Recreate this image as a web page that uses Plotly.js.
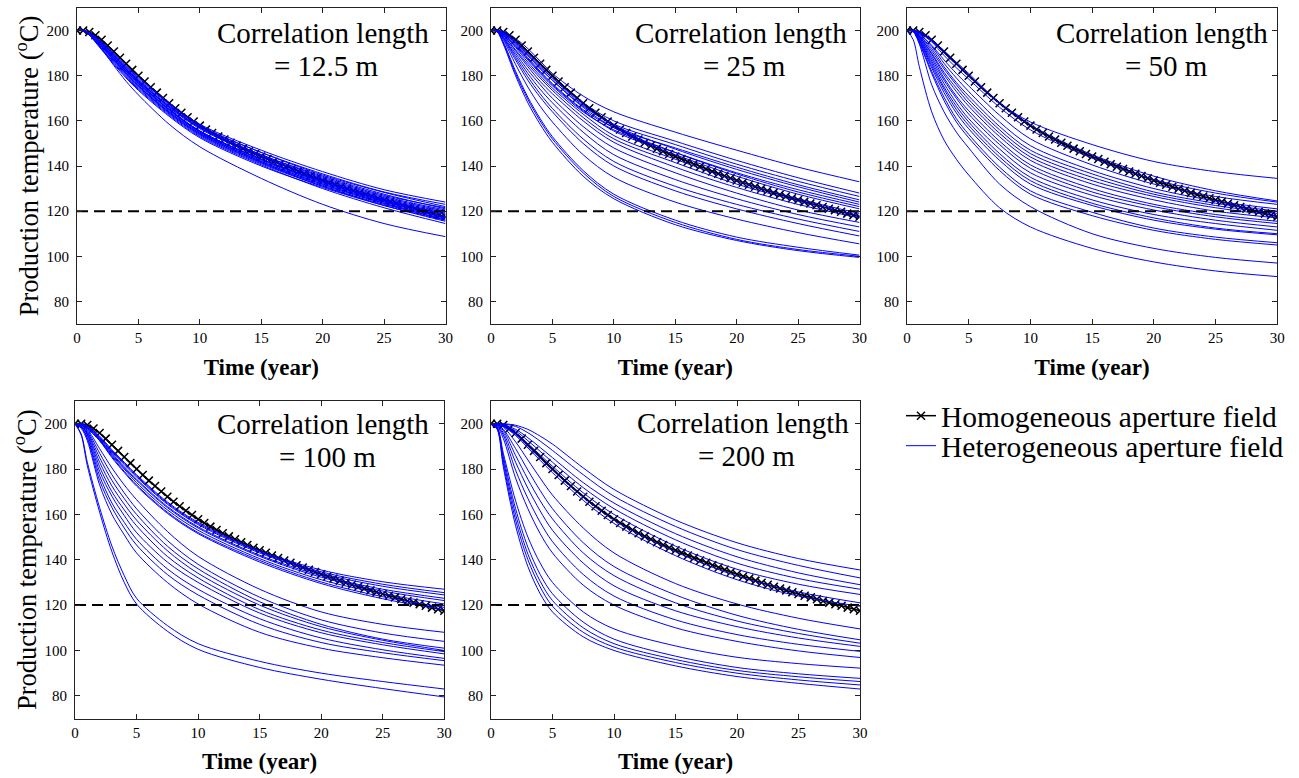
<!DOCTYPE html>
<html>
<head>
<meta charset="utf-8">
<script src="https://cdn.plot.ly/plotly-3.0.1.min.js"></script>
<style>html,body{margin:0;padding:0;background:#fff}#chart{width:1299px;height:778px}</style>
</head>
<body>
<div id="chart"></div>
<script>
// ---------- data ----------
const timeHom = [0,0.5,1,1.5,2,2.5,3,3.5,4,4.5,5,5.5,6,6.5,7,7.5,8,8.5,9,9.5,10,10.5,11,11.5,12,12.5,13,13.5,14,14.5,15,15.5,16,16.5,17,17.5,18,18.5,19,19.5,20,20.5,21,21.5,22,22.5,23,23.5,24,24.5,25,25.5,26,26.5,27,27.5,28,28.5,29,29.5,30];
const tempHom = [200.0,200.0,199.4,197.9,195.9,193.4,190.7,188.0,185.3,182.6,180.0,177.4,174.9,172.5,170.1,167.8,165.6,163.6,161.6,159.7,157.9,156.2,154.6,153.1,151.7,150.3,149.0,147.7,146.5,145.3,144.2,143.1,141.9,140.8,139.7,138.7,137.6,136.6,135.6,134.6,133.6,132.6,131.7,130.8,129.9,129.0,128.1,127.3,126.5,125.7,124.9,124.1,123.4,122.6,121.8,121.1,120.4,119.7,118.9,118.2,117.5];

const timeHet = [0,0.5,1,2,3,4,5,7.5,10,15,20,25,30];

const het12 = [
  [200,200,199,194,188,182,177,165,155.5,143,133,125,118.5],
  [200,200,199,194.5,189,183,178,166,157,145,135.5,127.5,121],
  [200,200,198.5,193,187,181,175.5,164,154.5,142,132,124,117.5],
  [200,200,199,195,189.5,184,179,167.5,158,146,136,128.3,122],
  [200,200,198.5,193.5,187.5,181.5,176,164.5,155,143,133.5,125.5,119.5],
  [200,200,199,194.5,189,183,177.5,166.5,157.5,146,136.5,128.5,123],
  [200,200,198,192,186,180,174.5,163,153.5,141,131,123,116.5],
  [200,200,199,195,190,184.5,179.5,168,158.5,147,137.5,129.5,124],
  [200,200,198.5,193,187,181,175.5,163.5,154,141.5,131.5,123.5,117],
  [200,200,199,194.5,189,183,177.5,166,156.5,144,134,126,120],
  [200,200,198,192.5,186.5,180.5,175,163.5,154,141.5,131,122.5,115.5],
  [200,200,199,194,188,182,176.5,165,155.5,143,133,125,119],
  [200,200,198.5,193,187,181,175.5,164,154.5,142.5,132.5,124.5,118.5],
  [200,200,199,194.5,189,183.5,178,166.5,157,145,135,127,121.5],
  [200,200,198,192,185.5,179.5,174,162.5,153,140.5,130,121.5,114.5],
  [200,200,199,195,189.5,184,178.5,167,157,144.5,134.5,126.5,120.5],
  [200,200,198.5,193.5,188,182,176.5,165,155,142,132,123.5,116],
  [200,200,199,194,188.5,182.5,177,165.5,155.5,143,133,124.5,117],
  [200,200,198.5,192,184.5,177.5,171.5,158.5,148.5,134.5,123,114.5,108.7],
  [200,200,198,191.5,185,179,173.5,162,152.5,140,130.5,122.5,116]
];

const het25 = [
  [200,200,199.5,196.5,192,186.5,181,171,164,155,147,139.5,133],
  [200,200,199,195,189.5,184,179,168,160,151,142.5,134.8,128],
  [200,200,199,194.5,189,183,178,166.5,158.5,149.5,140.8,133.2,126.5],
  [200,200,199,194,188,182,176.5,165,157,148,139.5,131.7,125],
  [200,200,199,195,190,184.5,179,167,158,147.5,138.5,130.8,124],
  [200,200,198.5,193,187,181,175.5,164,156,146,137,129.5,123],
  [200,200,199,194.5,189,183.5,178,166,157,146,136.5,128.5,122],
  [200,200,198.5,193.5,187.5,181.5,176,164.5,155.5,145,135.5,127.5,121],
  [200,200,198.5,192.5,186,180,174.5,163,153.5,143,133.5,125.5,119],
  [200,200,198,191.5,185,179,173.5,161.5,152,141.5,132,124.5,118],
  [200,200,198,191,184,177.5,172,160,150.5,139.5,130.5,123,117],
  [200,200,197.5,190,182.5,176,170,157.5,148,137,128,120.5,115],
  [200,200,197,189,181,174,168,155,145,134,125.5,118.5,113],
  [200,200,197,188,179.5,172,165.5,152,142,131,123,116.5,111],
  [200,200,196.5,187,178,170.5,164,150,140,129,121,114.5,109],
  [200,200,196,185,175,166.5,159.5,145,135,124,116.5,110.5,105.5],
  [200,199.5,195,182,170.5,161,153,138,127.5,116,108.5,104,100.5],
  [200,199.5,194.5,181,169.5,160,152,137,126.5,115,107.5,103,100],
  [200,199.5,194,180,168,158.5,150.5,135.5,125.5,114,107,102.5,99.5]
];

const het50 = [
  [200,200,199.5,196,191,186,181,168,159.5,149.5,142,137.5,134.5],
  [200,200,199,195.5,190,185,180,168,158,145,135.5,129,124.5],
  [200,200,199,195,189,183.5,178.5,166,156,143.5,134,128,124],
  [200,200,198.5,193.5,187,181,175.5,162.5,152,140.5,132,126.5,123],
  [200,200,198.5,193,185.5,179,173,159.5,149,138,130,124.5,121],
  [200,200,198,192,184,177,171,157.5,147,136.5,128.5,123.5,120],
  [200,200,198,191,183,176,169.5,156,145.5,135,127.5,122.5,119],
  [200,200,197.5,190,181.5,174.5,168,154.5,144,133.5,126.5,121.5,118],
  [200,200,197.5,189.5,180.5,173,166.5,153,142.5,132,125,120,117],
  [200,200,197,188.5,179,171,164.5,151,140.5,130,123,118.5,115.5],
  [200,200,197,187.5,178,170,163,149.5,139,128.5,122,117.5,114.5],
  [200,200,196.5,186.5,176.5,168,161,147.5,137,127,120.5,116,113],
  [200,200,196,185.5,175,166.5,159.5,145.5,135,125,118.5,114.5,111.5],
  [200,200,196,184.5,174,165,158,144,133.5,123.5,117,112.5,110],
  [200,200,195.5,183.5,172.5,163.5,156.5,142.5,132,122.5,116,112,109.5],
  [200,200,195,182,170.5,161,154,139.5,129,119.5,112.5,108.5,106],
  [200,199.5,194.5,181,169,159.5,152.5,138,127.5,118,111.5,107.5,105],
  [200,199.5,194,176,164,155,148,132,122,110,103.5,99.5,97],
  [200,196,184,164,151.5,143,136,121.5,113,103.5,97.5,93.5,91]
];

const het100 = [
  [200,200,199,194.5,188.5,183,177.5,165.5,156.5,144,135.5,130.3,127],
  [200,200,199,194,188,182.5,177,165,156,143.5,134.7,129.2,125.5],
  [200,200,199,194,187.5,182,176.5,164.5,155.5,143,134,128.3,124.5],
  [200,200,198.5,193.5,187,181,175.5,163.5,154.5,142,133,127,123],
  [200,200,198.5,193,186.5,180.5,175,163,154,141.5,132.3,126.2,122],
  [200,200,198.5,193,186,180,174,162,153,140.5,131.2,125,120.5],
  [200,200,198,192.5,185.5,179,173,161,152,139.7,130.2,123.7,119],
  [200,200,198,192.5,185,178.5,172.5,160.5,151.5,139,129.5,122.8,118],
  [200,199.5,197.5,189,180.5,173,166.5,152.5,141.5,127,117,111.5,108],
  [200,199.5,197,187,177.5,169.5,162.5,148.5,138,123.5,113.5,107.7,104],
  [200,199.5,196.5,185,175,167,160,146,136,121.5,111.5,105,101],
  [200,199,196,183,172.5,164.5,157.5,144,134,120,110.5,104.5,100],
  [200,199,195.5,181,170,162,155,141.5,132,118,109,103.5,99.5],
  [200,199,195,179,168,159.5,152,139,130,116.5,107.8,102.5,98.5],
  [200,198.5,194,177,165,156.5,149,136,127,114,105.5,100.3,96.5],
  [200,198.5,193.5,175,163,154,146.5,133.5,124.5,111.5,103.5,99,95.5],
  [200,198,192.5,173,160,151,143,130,120.5,108,101,96.8,93.5],
  [200,195.5,183,163,146,133,123,111,103,95.2,90,86.3,83],
  [200,195,181.5,161,143.5,130,120.5,108.5,100.5,92.5,87.3,83.2,79.5]
];

const het200 = [
  [200,200,200,199.3,197.5,194.5,191,180.5,171,157.5,147.5,140.5,135.5],
  [200,200,199.8,198.8,196,192.3,188.2,177.5,168,154.7,144.5,137.5,132],
  [200,200,199.5,197.5,193.8,189.5,185,174,165,151.5,141.3,134.2,129],
  [200,200,199.3,196.8,192.5,187.8,183,171.8,162.5,148.8,138.5,131.7,127],
  [200,200,199,196,191.2,186.2,181.2,169.5,160,146,135.8,129.2,124.7],
  [200,200,199,195.3,190,184.7,179.5,167.5,157.5,143.5,132.8,125.8,121],
  [200,200,198.8,194.8,189.3,183.8,178.4,166.2,156,141.8,131.2,124,119.5],
  [200,199.8,198.5,192,184,176,168.5,154,143,129.5,120.5,114.2,109.5],
  [200,199.6,197.5,189,179.5,170.5,162.5,147.5,137,124.5,115.5,109.3,104.7],
  [200,199.5,197,186,175.5,166,158,143,133,121,113,107.5,103.2],
  [200,199.3,196,183,171.5,161.5,153,138.5,128.5,117.5,110.5,105.5,101.8],
  [200,199,195,179.5,167,156.5,148,133.5,124,113.5,107,102.7,99.6],
  [200,198.8,193.5,176,162.5,151.5,143,128.8,120,110,104,99.8,96.9],
  [200,198.5,187,166,150,138.5,130,117,109.5,102,97,94.2,92.2],
  [200,198.2,185.5,162.5,145.5,133.5,125,112.5,105,97.5,92.5,89.7,87.7],
  [200,198,184,160,142.5,130.5,122,110,103,96,91.2,88.4,86.3],
  [200,197.8,182.5,157.5,140,128,119.5,108,101.5,94.7,90,87,84.8],
  [200,197.5,181,155,137,125,117,106,100,93.2,88.5,85.5,83]
];

const thresholdTime = [0, 30];
const thresholdTemp = [120, 120];

const panelTitle = 'Correlation length';
const panelLengths = ['= 12.5 m', '= 25 m', '= 50 m', '= 100 m', '= 200 m'];
const xTicks = [0, 5, 10, 15, 20, 25, 30];
const yTicks = [80, 100, 120, 140, 160, 180, 200];
const legendNames = ['Homogeneous aperture field', 'Heterogeneous aperture field'];
const xTitle = 'Time (year)';
const yTitle = 'Production temperature (<sup>o</sup>C)';

// ---------- layout ----------
const W = 1299, H = 778;
const FONT = 'Liberation Serif, Times New Roman, serif';
const hetSets = [het12, het25, het50, het100, het200];
// pixel boxes [left, right, top, bottom]
const boxes = [
  [77, 445.5, 8, 324],
  [491, 859.5, 8, 324],
  [907, 1277.3, 8, 324],
  [75, 444.3, 401, 718.5],
  [491, 860, 401, 718.5]
];
const labelPos = [ // centres of the two annotation lines, in pixels
  [322.5, 33, 326, 66],
  [741, 33, 744, 66],
  [1161.7, 33, 1166, 66],
  [322.5, 424, 327, 457],
  [742.5, 423, 746.5, 456]
];

const traces = [];
const layout = {
  width: W, height: H, autosize: false,
  margin: {l: 0, r: 0, t: 0, b: 0},
  paper_bgcolor: '#fff', plot_bgcolor: '#fff',
  font: {family: FONT, color: '#000'},
  showlegend: true,
  annotations: [],
  legend: {
    x: 901 / W, y: 1 - 416 / H, xanchor: 'left', yanchor: 'middle',
    bgcolor: 'rgba(0,0,0,0)', borderwidth: 0,
    font: {family: FONT, size: 29.5, color: '#000'}
  },
  legend2: {
    x: 901 / W, y: 1 - 446 / H, xanchor: 'left', yanchor: 'middle',
    bgcolor: 'rgba(0,0,0,0)', borderwidth: 0,
    font: {family: FONT, size: 29.5, color: '#000'}
  }
};

hetSets.forEach((set, p) => {
  const n = p + 1;
  const xa = 'x' + (n === 1 ? '' : n), ya = 'y' + (n === 1 ? '' : n);
  const b = boxes[p];
  const axCommon = {
    ticks: 'inside', ticklen: 5, tickwidth: 1, tickcolor: '#222',
    mirror: 'allticks', showline: true, linecolor: '#222', linewidth: 1,
    showgrid: false, zeroline: false,
    tickfont: {family: FONT, size: 15, color: '#000'}
  };
  layout['xaxis' + (n === 1 ? '' : n)] = Object.assign({}, axCommon, {
    domain: [b[0] / W, b[1] / W], anchor: ya, range: [0, 30],
    tickvals: xTicks, ticktext: xTicks.map(String),
    title: {text: xTitle, font: {family: FONT, size: 23, color: '#000', weight: 'bold'}, standoff: 13}
  });
  const yax = Object.assign({}, axCommon, {
    domain: [1 - b[3] / H, 1 - b[2] / H], anchor: xa, range: [70, 210],
    tickvals: yTicks, ticktext: yTicks.map(String), ticklabelstandoff: 4
  });
  if (n === 1 || n === 4) {
    yax.title = {text: yTitle, font: {family: FONT, size: 26.5, color: '#000'}, standoff: 0};
  }
  layout['yaxis' + (n === 1 ? '' : n)] = yax;

  // homogeneous
  traces.push({
    x: timeHom, y: tempHom, xaxis: xa, yaxis: ya, type: 'scatter',
    mode: 'lines+markers', name: legendNames[0], legend: 'legend',
    showlegend: p === 0,
    line: {color: '#000', width: 1.5},
    marker: {symbol: 'x-thin-open', size: 8, color: '#000', line: {color: '#000', width: 1.5}}
  });
  // heterogeneous
  set.forEach((row, k) => {
    traces.push({
      x: timeHet, y: row, xaxis: xa, yaxis: ya, type: 'scatter',
      mode: 'lines', name: legendNames[1], legend: 'legend2',
      showlegend: p === 0 && k === 0,
      line: {color: '#0000ff', width: 1, shape: 'spline', smoothing: 0.9}
    });
  });
  // threshold
  traces.push({
    x: thresholdTime, y: thresholdTemp, xaxis: xa, yaxis: ya, type: 'scatter',
    mode: 'lines', showlegend: false, hoverinfo: 'skip',
    line: {color: '#000', width: 2, dash: '11px,6px'}
  });

  const lp = labelPos[p];
  layout.annotations.push({
    xref: 'paper', yref: 'paper', x: lp[0] / W, y: 1 - lp[1] / H,
    xanchor: 'center', yanchor: 'middle', showarrow: false,
    text: panelTitle, font: {family: FONT, size: 29, color: '#000'}
  });
  layout.annotations.push({
    xref: 'paper', yref: 'paper', x: lp[2] / W, y: 1 - lp[3] / H,
    xanchor: 'center', yanchor: 'middle', showarrow: false,
    text: panelLengths[p], font: {family: FONT, size: 29, color: '#000'}
  });
});

Plotly.newPlot('chart', traces, layout, {displayModeBar: false, staticPlot: true});
</script>
</body>
</html>
